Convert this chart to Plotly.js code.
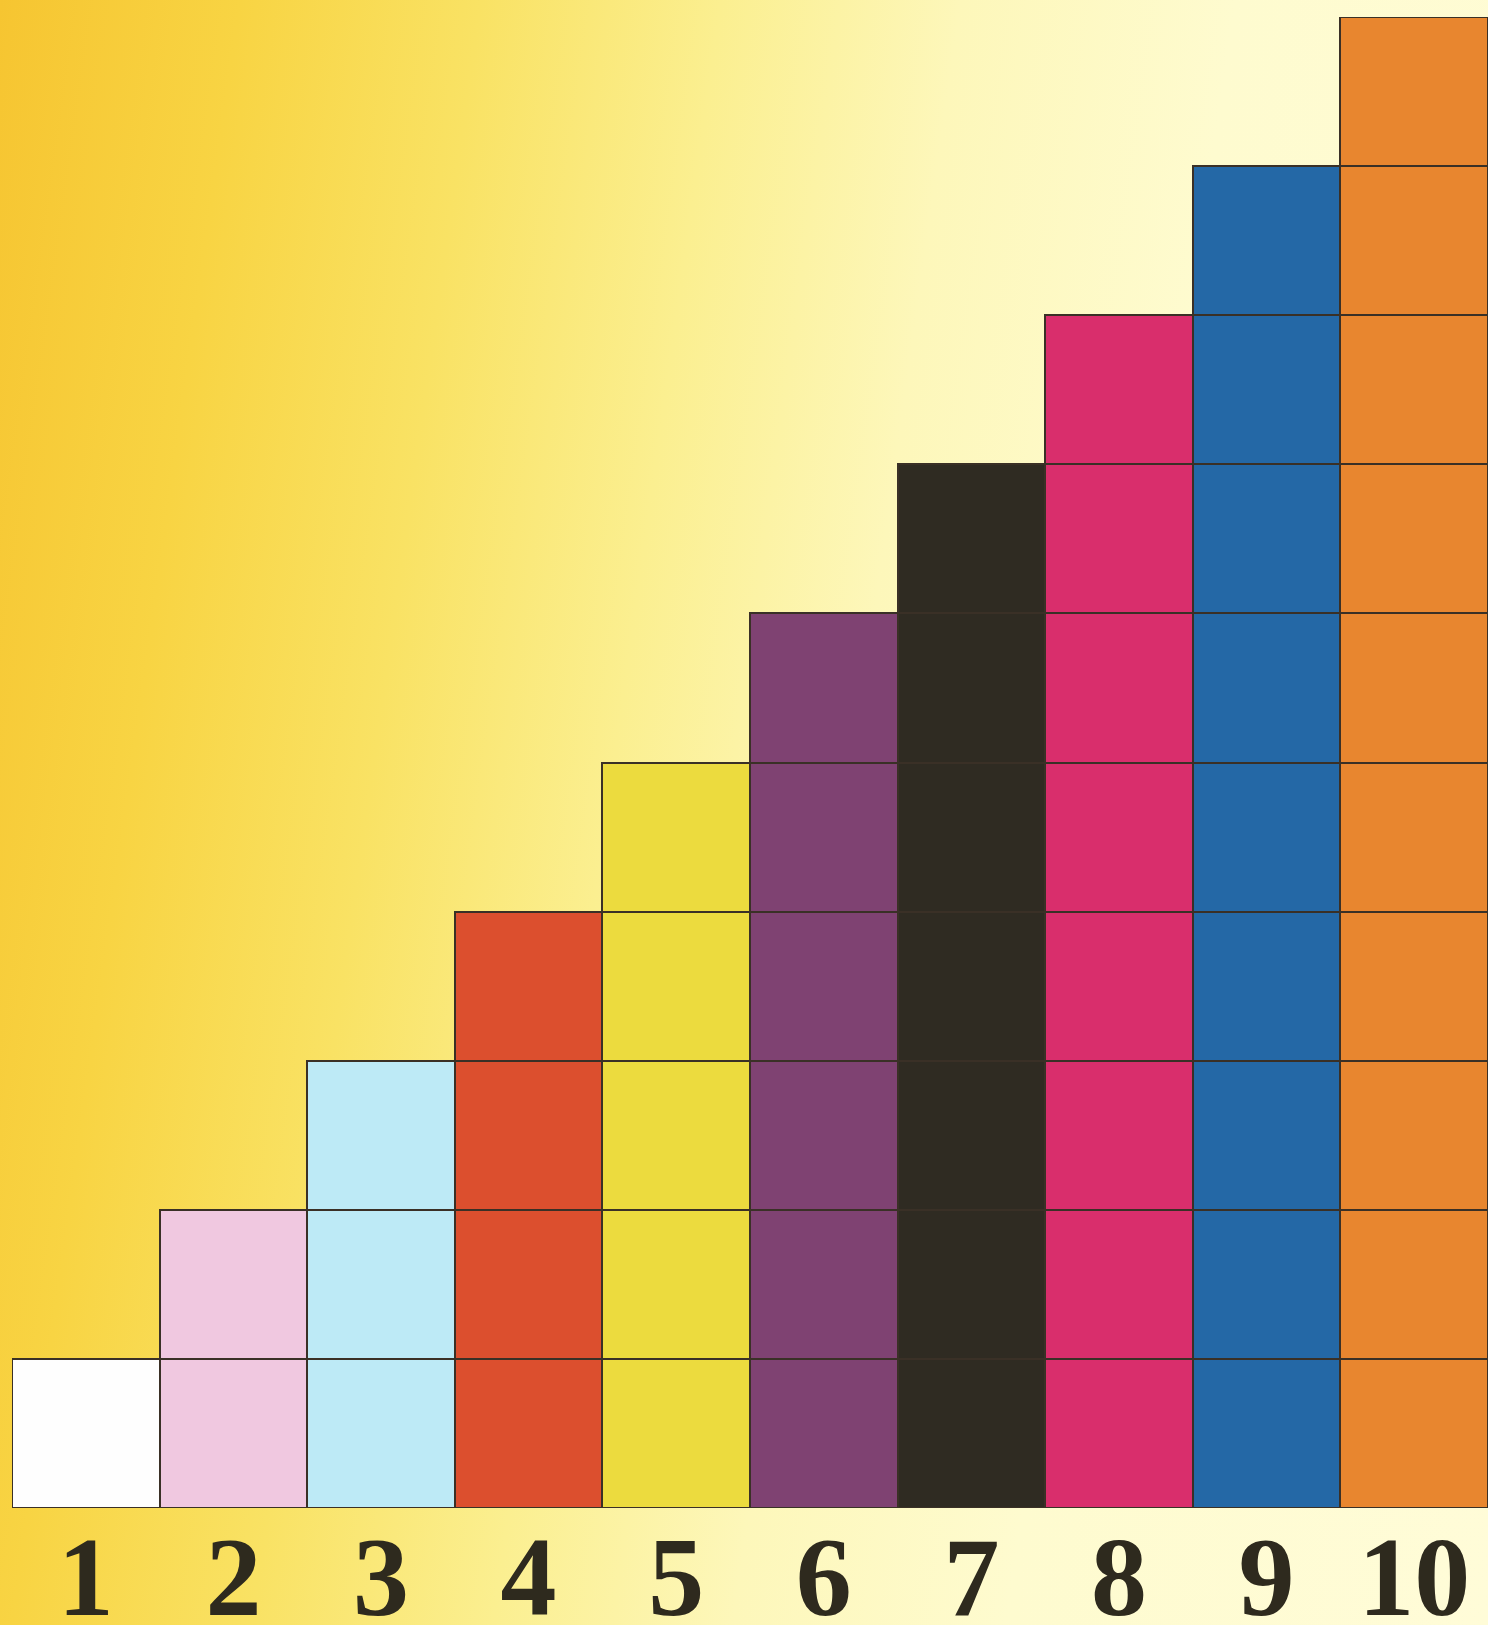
<!DOCTYPE html>
<html>
<head>
<meta charset="utf-8">
<script src="https://cdn.plot.ly/plotly-3.0.1.min.js"></script>
<style>
  html, body { margin: 0; padding: 0; }
  body {
    width: 1488px; height: 1625px; overflow: hidden;
    background: linear-gradient(98deg, #f6c531 0%, #f8d443 14%, #f9e264 28%, #fbef90 42%, #fdf7ba 56%, #fefbcf 72%, #fffcd8 100%);
  }
  #chart { width: 1488px; height: 1625px; }
</style>
</head>
<body>
<div id="chart"></div>
<script>
// Column labels (categories), their heights (number of unit cells) and colours
const categories = ['1', '2', '3', '4', '5', '6', '7', '8', '9', '10'];
const heights    = [1, 2, 3, 4, 5, 6, 7, 8, 9, 10];
const colors     = ['#fefefe', '#f0c8e0', '#bdeaf6', '#dc4f2e', '#ecdb3e',
                    '#7f4272', '#2f2b22', '#d92e6c', '#2468a6', '#e8862f'];

// One stacked trace per level of unit cells
const maxH = Math.max(...heights);
const traces = [];
for (let level = 1; level <= maxH; level++) {
  const xs = [], ys = [], cs = [];
  categories.forEach((c, i) => {
    if (heights[i] >= level) { xs.push(c); ys.push(1); cs.push(colors[i]); }
  });
  traces.push({
    type: 'bar',
    x: xs,
    y: ys,
    marker: { color: cs, line: { color: '#3a3026', width: 2 } },
    hoverinfo: 'skip',
    showlegend: false
  });
}

const layout = {
  width: 1488,
  height: 1625,
  margin: { l: 12, r: 0, t: 17, b: 117 },
  paper_bgcolor: 'rgba(0,0,0,0)',
  plot_bgcolor: 'rgba(0,0,0,0)',
  barmode: 'stack',
  bargap: 0,
  showlegend: false,
  xaxis: {
    type: 'category',
    categoryorder: 'array',
    categoryarray: categories,
    range: [-0.5, categories.length - 0.5],
    anchor: 'free',
    position: 0.004,
    showgrid: false,
    zeroline: false,
    showline: false,
    ticks: '',
    ticklabelstandoff: 0,
    tickfont: { family: 'Liberation Serif', size: 112, color: '#2e2a1e', weight: 'bold' },
    fixedrange: true
  },
  yaxis: {
    range: [0, maxH],
    visible: false,
    showgrid: false,
    zeroline: false,
    fixedrange: true
  }
};

Plotly.newPlot('chart', traces, layout, { displayModeBar: false, staticPlot: true });
</script>
</body>
</html>
